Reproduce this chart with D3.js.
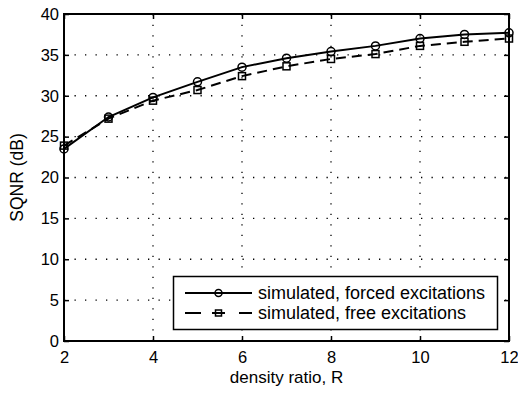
<!DOCTYPE html>
<html>
<head>
<meta charset="utf-8">
<script src="https://cdn.jsdelivr.net/npm/d3@7"></script>
<style>
  body { margin: 0; background: #fff; }
  svg { display: block; }
  text { font-family: "Liberation Sans", Arial, sans-serif; fill: #000; }
</style>
</head>
<body>
<svg id="chart" width="518" height="393"></svg>
<script>
const ratios = [2, 3, 4, 5, 6, 7, 8, 9, 10, 11, 12];
const forced = [23.5, 27.4, 29.8, 31.7, 33.5, 34.6, 35.4, 36.1, 37.0, 37.5, 37.7];
const free = [23.9, 27.2, 29.4, 30.7, 32.4, 33.6, 34.5, 35.1, 36.1, 36.6, 37.0];
const xTicks = [2, 4, 6, 8, 10, 12];
const yTicks = [0, 5, 10, 15, 20, 25, 30, 35, 40];
const seriesNames = ['simulated, forced excitations', 'simulated, free excitations'];

const svg = d3.select('#chart');
const m = { left: 64, top: 14, right: 509, bottom: 341 };

const x = d3.scaleLinear().domain([2, 12]).range([m.left, m.right]);
const y = d3.scaleLinear().domain([0, 40]).range([m.bottom, m.top]);

// dotted grid
const grid = svg.append('g').attr('stroke', '#000').attr('stroke-width', 1.3)
    .attr('stroke-dasharray', '1.3,9.2').attr('stroke-linecap', 'butt');
xTicks.slice(1, -1).forEach(t => {
    grid.append('line').attr('x1', x(t)).attr('x2', x(t)).attr('y1', m.bottom).attr('y2', m.top);
});
yTicks.slice(1, -1).forEach(t => {
    grid.append('line').attr('x1', m.left).attr('x2', m.right).attr('y1', y(t)).attr('y2', y(t));
});

// axes with inward ticks
const axB = svg.append('g').attr('transform', `translate(0,${m.bottom})`)
    .call(d3.axisBottom(x).tickValues(xTicks).tickSizeInner(-5).tickSizeOuter(0).tickPadding(10.5));
const axT = svg.append('g').attr('transform', `translate(0,${m.top})`)
    .call(d3.axisTop(x).tickValues(xTicks).tickSizeInner(-5).tickSizeOuter(0).tickFormat(''));
const axL = svg.append('g').attr('transform', `translate(${m.left},0)`)
    .call(d3.axisLeft(y).tickValues(yTicks).tickSizeInner(-5).tickSizeOuter(0).tickPadding(5));
const axR = svg.append('g').attr('transform', `translate(${m.right},0)`)
    .call(d3.axisRight(y).tickValues(yTicks).tickSizeInner(-5).tickSizeOuter(0).tickFormat(''));

[axB, axT, axL, axR].forEach(a => {
    a.select('.domain').remove();
    a.selectAll('line').attr('stroke', '#000').attr('stroke-width', 1.5);
    a.selectAll('text').style('font-size', '16.5px').attr('fill', '#000');
});

svg.append('rect')
    .attr('x', m.left).attr('y', m.top)
    .attr('width', m.right - m.left).attr('height', m.bottom - m.top)
    .attr('fill', 'none').attr('stroke', '#000').attr('stroke-width', 2);

const line = d3.line().x((d, i) => x(ratios[i])).y(d => y(d));

// free excitations (dashed, squares)
svg.append('path').datum(free).attr('d', line)
    .attr('fill', 'none').attr('stroke', '#000').attr('stroke-width', 2)
    .attr('stroke-dasharray', '10,6');
svg.append('g').selectAll('rect').data(free).join('rect')
    .attr('x', (d, i) => x(ratios[i]) - 3.5).attr('y', d => y(d) - 3.5)
    .attr('width', 7).attr('height', 7)
    .attr('fill', 'none').attr('stroke', '#000').attr('stroke-width', 1.5);

// forced excitations (solid, circles)
svg.append('path').datum(forced).attr('d', line)
    .attr('fill', 'none').attr('stroke', '#000').attr('stroke-width', 2);
svg.append('g').selectAll('circle').data(forced).join('circle')
    .attr('cx', (d, i) => x(ratios[i])).attr('cy', d => y(d)).attr('r', 4)
    .attr('fill', 'none').attr('stroke', '#000').attr('stroke-width', 1.5);

// axis labels
svg.append('text').attr('x', (m.left + m.right) / 2).attr('y', 383)
    .attr('text-anchor', 'middle').style('font-size', '17px').text('density ratio, R');
svg.append('text').attr('transform', `translate(23,${(m.top + m.bottom) / 2}) rotate(-90)`)
    .attr('text-anchor', 'middle').style('font-size', '17.5px').text('SQNR (dB)');

// legend
const lg = svg.append('g');
lg.append('rect').attr('x', 173.5).attr('y', 276.5).attr('width', 324).attr('height', 53)
    .attr('fill', '#fff').attr('stroke', '#000').attr('stroke-width', 1.5);
const rows = [293, 313];
lg.append('line').attr('x1', 185).attr('x2', 252).attr('y1', rows[0]).attr('y2', rows[0])
    .attr('stroke', '#000').attr('stroke-width', 2);
lg.append('circle').attr('cx', 218.5).attr('cy', rows[0]).attr('r', 3.5)
    .attr('fill', 'none').attr('stroke', '#000').attr('stroke-width', 1.5);
[[185, 201], [212, 225], [239, 252]].forEach(([a, b]) => {
    lg.append('line').attr('x1', a).attr('x2', b).attr('y1', rows[1]).attr('y2', rows[1])
        .attr('stroke', '#000').attr('stroke-width', 2);
});
lg.append('rect').attr('x', 215.5).attr('y', rows[1] - 3).attr('width', 6).attr('height', 6)
    .attr('fill', 'none').attr('stroke', '#000').attr('stroke-width', 1.5);
seriesNames.forEach((s, i) => {
    lg.append('text').attr('x', 258).attr('y', rows[i] + 6).style('font-size', '18px').text(s);
});
</script>
</body>
</html>
